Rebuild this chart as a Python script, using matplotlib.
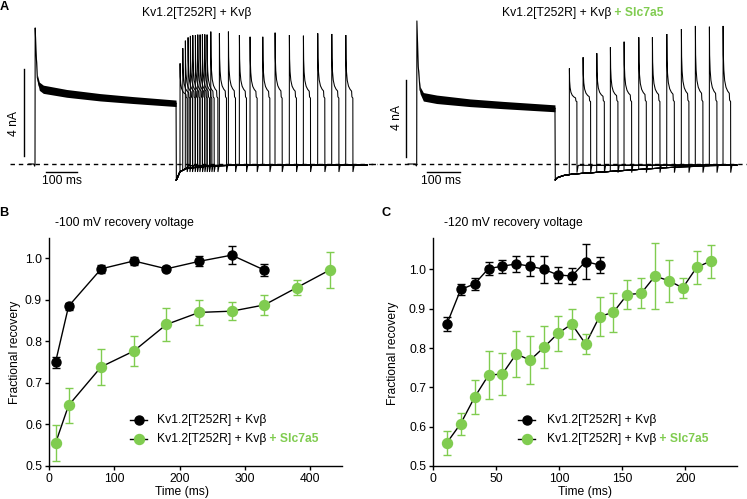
import numpy as np
import matplotlib
matplotlib.use("Agg")
import matplotlib.pyplot as plt
from matplotlib.lines import Line2D

plt.rcParams['font.family'] = ['Liberation Sans', 'DejaVu Sans']
FS = 8.7
GREEN = '#80CC50'
W, H = 747, 499

# ---------------- Panel B (-100 mV) ----------------
b_time_ctrl = [10, 30, 80, 130, 180, 230, 280, 330]
b_rec_ctrl = [0.750, 0.885, 0.975, 0.994, 0.975, 0.993, 1.008, 0.972]
b_err_ctrl = [0.013, 0.008, 0.010, 0.010, 0.006, 0.012, 0.022, 0.014]
b_time_slc = [10, 30, 80, 130, 180, 230, 280, 330, 380, 430]
b_rec_slc = [0.555, 0.646, 0.739, 0.777, 0.841, 0.870, 0.873, 0.888, 0.930, 0.972]
b_err_slc = [0.043, 0.043, 0.043, 0.037, 0.040, 0.031, 0.022, 0.025, 0.017, 0.043]

# ---------------- Panel C (-120 mV) ----------------
c_time_ctrl = [11, 22, 33, 44, 55, 66, 77, 88, 99, 110, 121, 132]
c_rec_ctrl = [0.861, 0.949, 0.963, 1.002, 1.008, 1.014, 1.008, 1.000, 0.986, 0.983, 1.020, 1.011]
c_err_ctrl = [0.018, 0.015, 0.015, 0.016, 0.017, 0.021, 0.026, 0.034, 0.020, 0.021, 0.044, 0.020]
c_time_slc = [11, 22, 33, 44, 55, 66, 77, 88, 99, 110, 121, 132, 143, 154, 165, 176, 187, 198, 209, 220]
c_rec_slc = [0.559, 0.608, 0.675, 0.731, 0.734, 0.785, 0.769, 0.802, 0.837, 0.861,
             0.810, 0.880, 0.891, 0.936, 0.939, 0.983, 0.971, 0.953, 1.005, 1.021]
c_err_slc = [0.031, 0.028, 0.044, 0.061, 0.053, 0.059, 0.061, 0.054, 0.044, 0.037,
             0.025, 0.049, 0.050, 0.037, 0.038, 0.083, 0.053, 0.025, 0.041, 0.042]

# ---------------- Panel A traces (ms, nA) ----------------
# left: Kv1.2[T252R] + Kvb
a1_pre_t = [-20, -4, -1, 0, 0.6, 3.2, 7.4, 13.9, 26.8, 102, 210, 317, 455]
a1_pre_i = [0.0, 0.0, -0.1, 0.0, 6.3, 5.3, 4.0, 3.6, 3.46, 3.27, 3.09, 2.96, 2.81]
a1_noise = [0, 0, 0, 0, 0, 0.05, 0.14, 0.19, 0.19, 0.18, 0.17, 0.16, 0.15]
a1_tail_t = [455, 456, 468, 489, 565, 640, 1071]
a1_tail_i = [2.81, -0.74, -0.35, -0.20, -0.09, -0.06, -0.06]
a1_pulse_t = [467.7, 476.5, 484.8, 493.5, 501.0, 508.7, 517.1, 524.8, 532.3, 539.7, 547.4, 554.8,
              566.8, 594.6, 623.7, 659.1, 693.5, 734.5, 774.2, 820.3, 865.6, 911.8, 957.1, 1002.3]
a1_pulse_peak = [4.66, 5.36, 5.71, 5.86, 5.93, 5.96, 5.97, 5.99, 5.99, 6.00, 6.00, 5.99,
                 6.13, 6.05, 6.13, 5.97, 5.89, 5.89, 6.08, 5.97, 5.94, 6.05, 6.02, 5.97]
a1_plateau = 3.05
a1_dip = -0.37
a1_end = 1071

# right: Kv1.2[T252R] + Kvb + Slc7a5
a2_pre_t = [-26, -4, -1, 0, 0.6, 4.8, 10.1, 20.2, 60.6, 161.5, 262.4, 419]
a2_pre_i = [0.0, 0.0, -0.1, 0.0, 7.45, 5.07, 3.85, 3.5, 3.37, 3.19, 3.07, 2.9]
a2_noise = [0, 0, 0, 0, 0, 0.05, 0.18, 0.22, 0.22, 0.2, 0.19, 0.18]
a2_tail_t = [419, 420, 428, 445, 474.6, 575.8, 676.7, 777.6, 878.8, 959.4, 970]
a2_tail_i = [2.9, -0.83, -0.70, -0.60, -0.52, -0.40, -0.28, -0.17, -0.10, -0.05, -0.05]
a2_pulse_t = [462.4, 503.9, 545.5, 586.7, 628.2, 672.7, 714.0, 757.6, 801.8, 844.2, 886.7, 928.2]
a2_pulse_peak = [4.98, 5.56, 5.77, 6.08, 6.37, 6.60, 6.60, 6.77, 7.03, 7.19, 7.15, 7.19]
a2_plateau = 3.25
a2_dip = -0.45
a2_end = 970

# shared test-pulse waveform (ms after onset, fraction of peak above plateau)
pulse_shape_t = [0.3, 1.0, 2.5, 5, 9, 14, 19, 20, 23]
pulse_shape_f = [1.0, 0.62, 0.42, 0.28, 0.19, 0.14, 0.11, 0.02, 0.0]


def fx(x):
    return x / W


def fy(y):
    return 1 - y / H


fig = plt.figure(figsize=(W / 100, H / 100), dpi=100)
renderer = fig.canvas.get_renderer()


def green_after(txt):
    bb = txt.get_window_extent(renderer)
    x_end = bb.x1 / fig.bbox.width
    y_pos = txt.get_position()[1]
    fig.text(x_end, y_pos, ' + Slc7a5', ha='left', va='center', fontsize=FS,
             color=GREEN, fontweight='bold')


def draw_traces(ax, pre_t, pre_i, noise, tail_t, tail_i, p_t, p_peak, plateau, dip, end):
    pre_t = np.array(pre_t); pre_i = np.array(pre_i); noise = np.array(noise)
    ax.fill_between(pre_t, pre_i - noise, pre_i + noise, color='black', lw=0)
    ax.plot(pre_t, pre_i, color='black', lw=0.8)
    ax.plot(tail_t, tail_i, color='black', lw=0.8)
    for ton, pk in zip(p_t, p_peak):
        ts = [tt for tt in tail_t[1:] if tt < ton]
        iv = [np.interp(tt, tail_t, tail_i) for tt in ts]
        ts.append(ton); iv.append(np.interp(ton, tail_t, tail_i))
        for st, sf in zip(pulse_shape_t, pulse_shape_f):
            ts.append(ton + st); iv.append(plateau + sf * (pk - plateau))
        ts += [ton + 23.3, ton + 27, end]
        iv += [dip, -0.07, -0.06]
        ax.plot(ts, iv, color='black', lw=0.75, solid_joinstyle='miter')


# left trace axes
axA1 = fig.add_axes([0, fy(190), 380 / W, 170 / H])
axA1.set_xlim(-112.9, 1112.9); axA1.set_ylim(-1.204, 6.667); axA1.axis('off')
draw_traces(axA1, a1_pre_t, a1_pre_i, a1_noise, a1_tail_t, a1_tail_i,
            a1_pulse_t, a1_pulse_peak, a1_plateau, a1_dip, a1_end)
axA1.plot([-80.6, 1103], [0, 0], color='black', lw=1.0, ls=(0, (3.2, 2.8)))
axA1.plot([-34.5, -34.5], [0.384, 4.384], color='black', lw=1.0)
axA1.plot([35.5, 135.5], [-0.384, -0.384], color='black', lw=1.0)

axA2 = fig.add_axes([370 / W, fy(190), 377 / W, 170 / H])
axA2.set_xlim(-141.5, 1000.9); axA2.set_ylim(-1.354, 7.5); axA2.axis('off')
draw_traces(axA2, a2_pre_t, a2_pre_i, a2_noise, a2_tail_t, a2_tail_i,
            a2_pulse_t, a2_pulse_peak, a2_plateau, a2_dip, a2_end)
axA2.plot([-138.5, 1000.9], [0, 0], color='black', lw=1.0, ls=(0, (3.2, 2.8)))
axA2.plot([-33.3, -33.3], [0.38, 4.38], color='black', lw=1.0)
axA2.plot([30.3, 130.3], [-0.43, -0.43], color='black', lw=1.0)

fig.text(fx(14), fy(123), '4 nA', rotation=90, ha='center', va='center', fontsize=FS)
fig.text(fx(62), fy(181), '100 ms', ha='center', va='center', fontsize=FS)
fig.text(fx(397), fy(118), '4 nA', rotation=90, ha='center', va='center', fontsize=FS)
fig.text(fx(441), fy(181), '100 ms', ha='center', va='center', fontsize=FS)

fig.text(fx(197), fy(13), 'Kv1.2[T252R] + Kvβ', ha='center', va='center', fontsize=FS)
t_r = fig.text(fx(502), fy(13), 'Kv1.2[T252R] + Kvβ', ha='left', va='center', fontsize=FS)
green_after(t_r)

for lab, x, y in [('A', 4, 7.5), ('B', 4, 213.5), ('C', 386, 213.5)]:
    fig.text(fx(x), fy(y), lab, ha='center', va='center', fontsize=9.2, fontweight='bold')


def style(ax):
    for s in ['top', 'right']:
        ax.spines[s].set_visible(False)
    for s in ['left', 'bottom']:
        ax.spines[s].set_linewidth(1.0)
    ax.tick_params(direction='out', length=3, width=1.0, labelsize=FS, pad=2)


def series(ax, x, y, e, color, ms):
    ax.plot(x, y, color='black', lw=1.0, zorder=2, clip_on=False)
    ax.errorbar(x, y, yerr=e, color=color, ecolor=color, lw=0, elinewidth=1.0,
                capsize=3, capthick=1.0, marker='o', ms=ms, mec=color, mfc=color,
                clip_on=False, zorder=3)


def legend(xline0, xline1, text_x):
    for yy, col, ms in [(420, 'black', 6.5), (439, GREEN, 7.2)]:
        fig.add_artist(Line2D([fx(xline0), fx(xline1)], [fy(yy), fy(yy)], color='black', lw=1.0,
                              transform=fig.transFigure))
        fig.add_artist(Line2D([fx((xline0 + xline1) / 2)], [fy(yy)], marker='o', ms=ms,
                              color=col, mec=col, transform=fig.transFigure))
    fig.text(fx(text_x), fy(420), 'Kv1.2[T252R] + Kvβ', ha='left', va='center', fontsize=FS)
    tt = fig.text(fx(text_x), fy(439), 'Kv1.2[T252R] + Kvβ', ha='left', va='center', fontsize=FS)
    green_after(tt)


# Panel B
axB = fig.add_axes([fx(49), fy(466), 293 / W, (466 - 237.7) / H])
style(axB)
series(axB, b_time_ctrl, b_rec_ctrl, b_err_ctrl, 'black', 6.5)
series(axB, b_time_slc, b_rec_slc, b_err_slc, GREEN, 7.2)
axB.set_xlim(0, 449); axB.set_ylim(0.5, 1.05)
axB.set_xticks([0, 100, 200, 300, 400]); axB.set_yticks([0.5, 0.6, 0.7, 0.8, 0.9, 1.0])
fig.text(fx(55), fy(223), '-100 mV recovery voltage', ha='left', va='center', fontsize=FS)
fig.text(fx(15), fy(352), 'Fractional recovery', rotation=90, ha='center', va='center', fontsize=FS)
fig.text(fx(182), fy(492), 'Time (ms)', ha='center', va='center', fontsize=FS)
legend(130, 147, 157)

# Panel C
axC = fig.add_axes([fx(433), fy(466), 304 / W, (466 - 238.3) / H])
style(axC)
series(axC, c_time_ctrl, c_rec_ctrl, c_err_ctrl, 'black', 6.5)
series(axC, c_time_slc, c_rec_slc, c_err_slc, GREEN, 7.2)
axC.set_xlim(0, 241); axC.set_ylim(0.5, 1.079)
axC.set_xticks([0, 50, 100, 150, 200]); axC.set_yticks([0.5, 0.6, 0.7, 0.8, 0.9, 1.0])
fig.text(fx(444), fy(223), '-120 mV recovery voltage', ha='left', va='center', fontsize=FS)
fig.text(fx(393), fy(353), 'Fractional recovery', rotation=90, ha='center', va='center', fontsize=FS)
fig.text(fx(585), fy(492), 'Time (ms)', ha='center', va='center', fontsize=FS)
legend(518, 535, 547)

fig.savefig('out.png', dpi=100)
